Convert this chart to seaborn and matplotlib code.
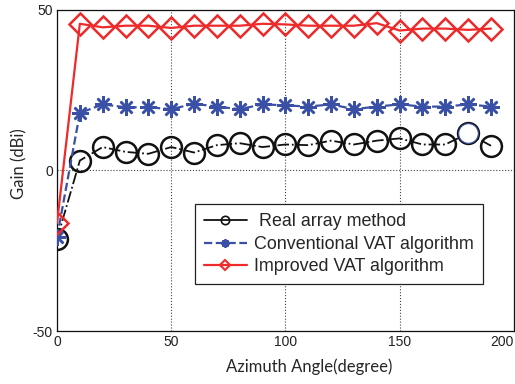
import numpy as np
import pandas as pd
import matplotlib
matplotlib.use("Agg")
import matplotlib.pyplot as plt
from matplotlib.lines import Line2D
import seaborn as sns

angles = [0, 10, 20, 30, 40, 50, 60, 70, 80, 90, 100, 110, 120, 130, 140, 150, 160, 170, 180, 190]
real_array = [-21.4, 3.1, 7.3, 5.8, 5.2, 7.3, 5.6, 7.9, 8.5, 7.3, 8.1, 7.9, 9.3, 8.1, 9.3, 10.0, 8.1, 8.1, 11.6, 7.7]
conventional = [-20.8, 17.9, 20.6, 19.7, 19.7, 19.1, 20.8, 19.9, 19.1, 20.6, 20.3, 19.9, 20.6, 19.1, 19.9, 20.6, 19.9, 19.9, 20.6, 19.9]
improved = [-16.4, 45.7, 44.6, 45.1, 45.1, 44.4, 45.1, 45.1, 45.1, 45.7, 45.5, 45.1, 45.1, 45.1, 45.9, 43.6, 44.2, 44.2, 43.8, 44.2]
labels = ["Real array method", "Conventional VAT algorithm", "Improved VAT algorithm"]
xticks = [0, 50, 100, 150, 200]
yticks = [-50, 0, 50]
highlight_idx = 18

sns.set_style("white")
plt.rcParams['font.family'] = ['Liberation Sans', 'DejaVu Sans']
plt.rcParams['axes.unicode_minus'] = False

RED = "#EE2A2A"
BLUE = "#3A50A6"
BLACK = "#111111"

fig = plt.figure(figsize=(5.15, 3.84), dpi=100)
ax = fig.add_axes([0.1107, 0.138, 0.887, 0.836])

df = pd.DataFrame({"angle": angles, "real": real_array, "conv": conventional, "imp": improved})

sns.lineplot(data=df, x="angle", y="real", ax=ax, color=BLACK, linestyle="-.", lw=1.3,
             marker="o", markersize=15, markerfacecolor="none", markeredgecolor=BLACK,
             markeredgewidth=1.8, zorder=3)
sns.scatterplot(x=[angles[highlight_idx]], y=[real_array[highlight_idx]], ax=ax, s=200,
                facecolor="white", edgecolor=BLUE, linewidth=0.8, zorder=4)
sns.lineplot(data=df, x="angle", y="conv", ax=ax, color=BLUE, linestyle="--", lw=1.6,
             marker=(8, 2, 0), markersize=12, markeredgecolor=BLUE, markeredgewidth=1.8, zorder=3)
sns.lineplot(data=df, x="angle", y="imp", ax=ax, color=RED, linestyle="-", lw=1.6,
             marker="D", markersize=11.5, markerfacecolor="none", markeredgecolor=RED,
             markeredgewidth=1.8, zorder=3)

ax.set_xlim(0, 200)
ax.set_ylim(-50, 50)
ax.set_xticks(xticks)
ax.set_yticks(yticks)
ax.tick_params(direction="in", length=4, labelsize=10, colors="#222222", pad=3)
ax.get_xticklabels()[-1].set_horizontalalignment("right")
ax.grid(True, linestyle=":", color="#444444", linewidth=0.8)
for s in ax.spines.values():
    s.set_color("#111111")
    s.set_linewidth(0.9)

ax.set_xlabel("Azimuth Angle(degree)", fontsize=12, family=["Lato", "DejaVu Sans"])
ax.xaxis.set_label_coords(0.551, -0.084)
ax.set_ylabel("Gain (dBi)", fontsize=12, family=["Lato", "DejaVu Sans"])
ax.yaxis.set_label_coords(-0.064, 0.522)

handles = [
    Line2D([], [], color=BLACK, linestyle="-", lw=1.3, marker="o", markersize=6,
           markerfacecolor="none", markeredgecolor=BLACK, markeredgewidth=1.2),
    Line2D([], [], color=BLUE, linestyle="--", lw=1.6, marker=(8, 2, 0), markersize=6,
           markeredgecolor=BLUE, markeredgewidth=1.5),
    Line2D([], [], color=RED, linestyle="-", lw=1.6, marker="D", markersize=5,
           markerfacecolor="none", markeredgecolor=RED, markeredgewidth=1.5),
]
leg = ax.legend(handles, [" " + labels[0], labels[1], labels[2]], loc="lower left",
                bbox_to_anchor=(0.302, 0.146),
                fontsize=12.9, frameon=True, fancybox=False, framealpha=1,
                edgecolor="#222222", borderpad=0.5, labelspacing=0.3,
                handlelength=2.4, handletextpad=0.4, borderaxespad=0)
leg.get_frame().set_linewidth(0.9)

fig.savefig("out.png", dpi=100)
